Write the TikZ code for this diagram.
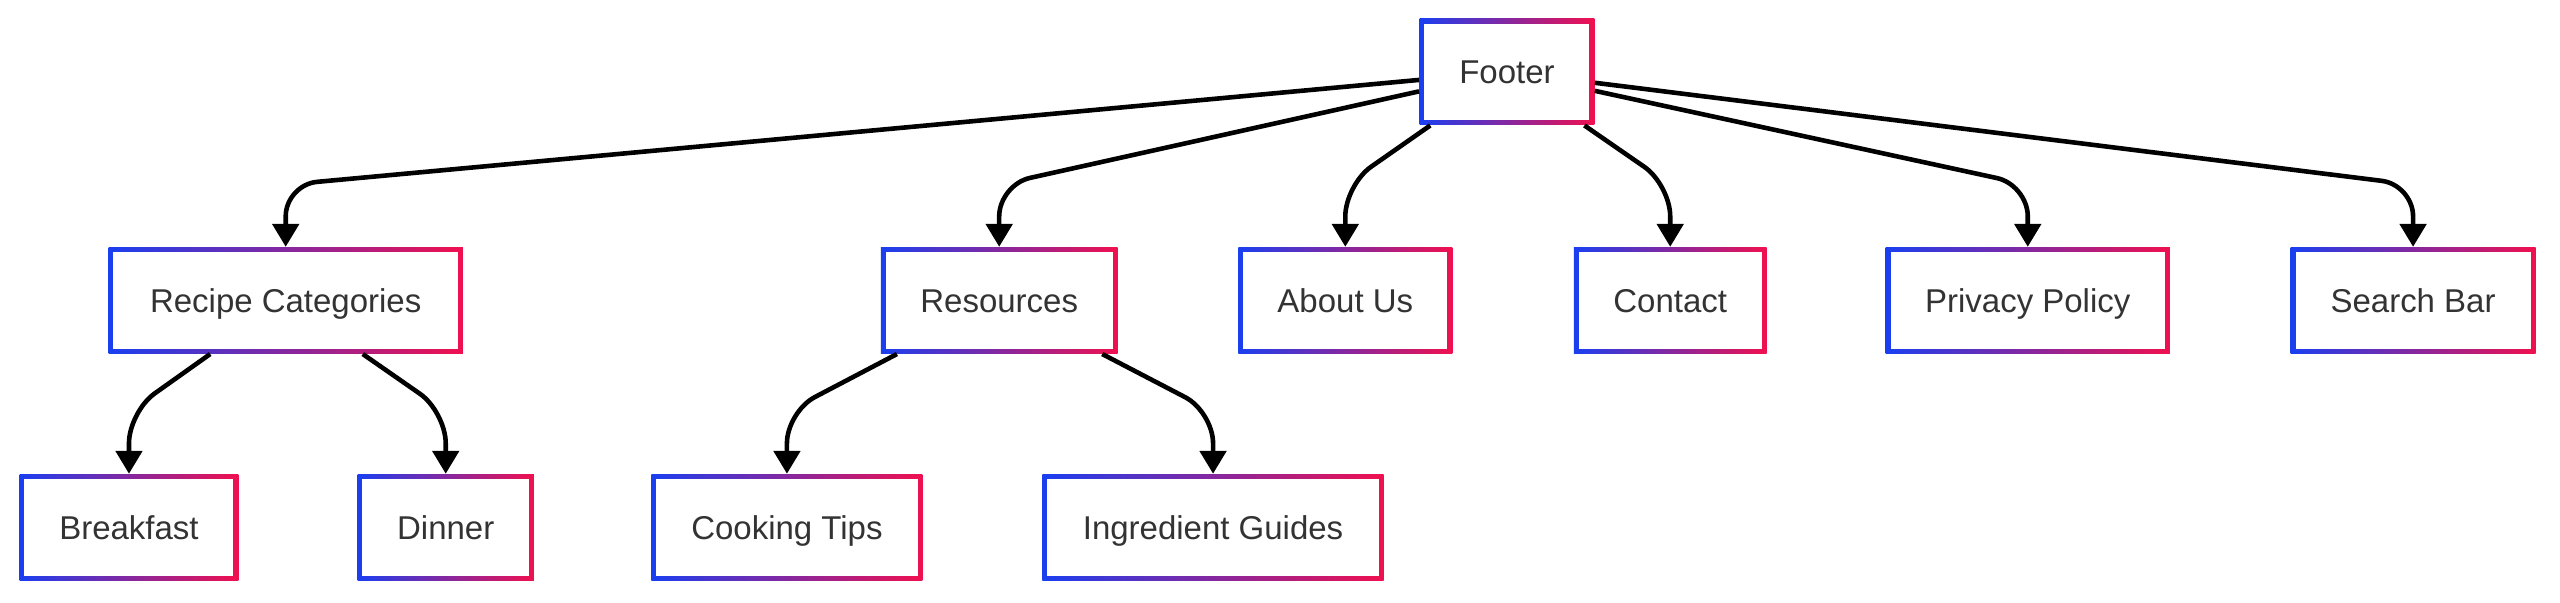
\documentclass[tikz,border=0pt]{standalone}
\usepackage{fontspec}
\setmainfont{Liberation Sans}
\usetikzlibrary{arrows.meta,calc}
\definecolor{edgeblue}{HTML}{1A3FF0}
\definecolor{edgered}{HTML}{F0104F}
\definecolor{labelgray}{HTML}{333333}
\begin{document}
\begin{tikzpicture}[x=0.02cm,y=-0.02cm,
    box/.style = {minimum width=0.02cm*#1, minimum height=1.3cm, inner sep=0pt,
        text height=9.5pt, text depth=1.3pt,
        text=labelgray, font=\fontsize{11.5}{14}\selectfont,
        path picture={
            \shade[left color=edgeblue,right color=edgered]
                (path picture bounding box.south west) rectangle (path picture bounding box.north east);
            \fill[white] ([shift={(1.7pt,1.7pt)}]path picture bounding box.south west)
                rectangle ([shift={(-1.7pt,-1.7pt)}]path picture bounding box.north east);}},
    link/.style = {line width=1.6pt, rounded corners=11pt, -{Triangle[length=0.28cm,width=0.32cm]}}]
    \useasboundingbox (0,0) rectangle (1568,369);
                \node[box=107] (footer) at (923,44) {Footer};
                \node[box=217] (recipes) at (175,184) {Recipe Categories};
                \node[box=145] (resources) at (612,184) {Resources};
                \node[box=131] (about) at (824,184) {About Us};
                \node[box=118] (contact) at (1023,184) {Contact};
                \node[box=174] (privacy) at (1242,184) {Privacy Policy};
                \node[box=150] (search) at (1478,184) {Search Bar};
                \node[box=134] (breakfast) at (79,323) {Breakfast};
                \node[box=108] (dinner) at (273,323) {Dinner};
                \node[box=166] (tips) at (482,323) {Cooking Tips};
                \node[box=209] (guides) at (743,323) {Ingredient Guides};
                \foreach \child in {recipes,resources,about,contact,privacy,search}
                    \draw[link] (footer) -- ([yshift=0.76cm]\child.north) -- (\child.north);
                \foreach \child in {breakfast,dinner}
                    \draw[link] (recipes) -- ([yshift=0.76cm]\child.north) -- (\child.north);
                \foreach \child in {tips,guides}
                    \draw[link] (resources) -- ([yshift=0.76cm]\child.north) -- (\child.north);
\end{tikzpicture}
\end{document}
